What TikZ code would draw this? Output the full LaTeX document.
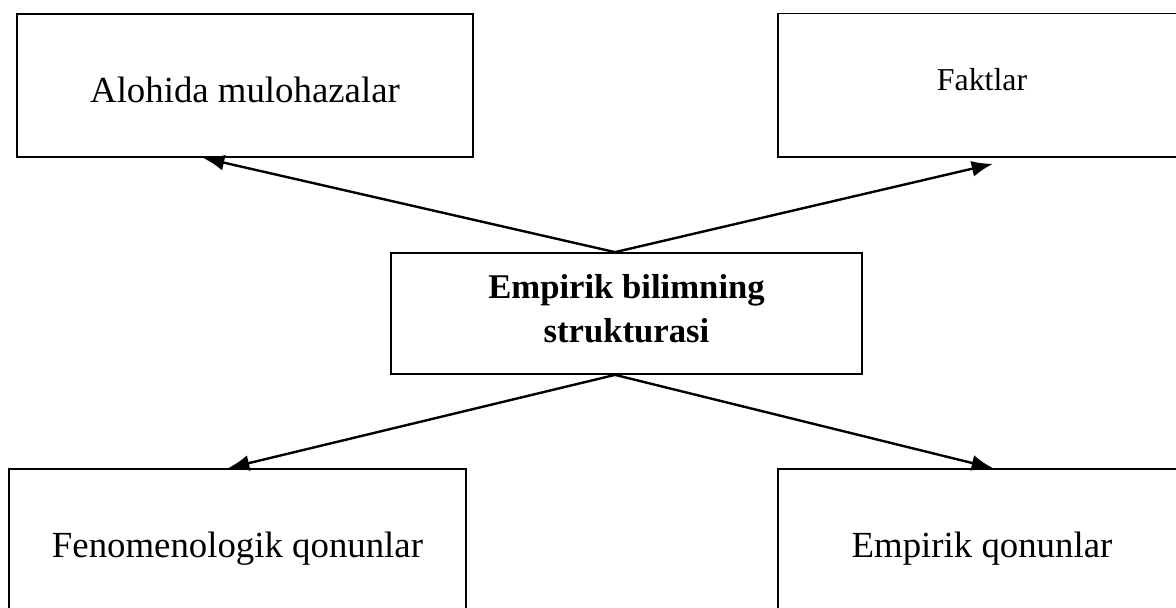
\documentclass[tikz,border=0pt]{standalone}
\usepackage{fontspec}
\setmainfont{Liberation Serif}
\usetikzlibrary{arrows.meta,calc}
\begin{document}
\begin{tikzpicture}[x=0.75pt,y=-0.75pt,
  box/.style={draw=black,line width=1.3pt,inner sep=0pt,text depth=0pt,
    font=\fontsize{27.6}{33}\selectfont},
  arr/.style={line width=1.8pt,-{Latex[length=16pt,width=12pt]}}]
\useasboundingbox (0,0) rectangle (1176,607);
\node[box,minimum width=342pt,minimum height=107.25pt,text height=24.75pt] (tl) at (245,85.5) {Alohida mulohazalar};
\node[box,minimum width=306pt,minimum height=107.6pt,text height=8.6pt,
  font=\fontsize{23.9}{28}\selectfont] (tr) at (982,85.25) {Faktlar};
\node[box,minimum width=353.25pt,minimum height=90.75pt,text height=42.75pt,
  align=center,font=\fontsize{26}{33}\selectfont\bfseries] (c) at (626.5,313.5) {Empirik bilimning\\strukturasi};
\node[box,minimum width=342.75pt,minimum height=113.25pt,text height=18.75pt] (bl) at (237.5,544.5) {Fenomenologik qonunlar};
\node[box,minimum width=306pt,minimum height=113.25pt,text height=18.75pt] (br) at (982,544.5) {Empirik qonunlar};
\coordinate (ctop) at ($(c.north)+(-11.5,0)$);
\coordinate (cbot) at ($(c.south)+(-11.5,0)$);
\draw[arr] (ctop) -- ($(tl.south)+(-42,0)$);
\draw[arr] (ctop) -- ($(tr.south)+(11,6)$);
\draw[arr] (cbot) -- ($(bl.north)+(-9.5,0)$);
\draw[arr] (cbot) -- ($(br.north)+(11,0)$);
\end{tikzpicture}
\end{document}
